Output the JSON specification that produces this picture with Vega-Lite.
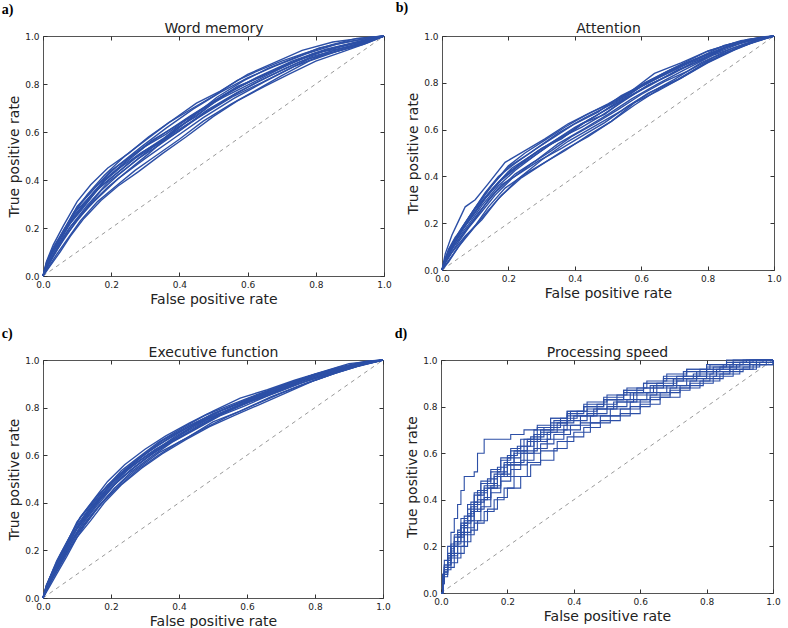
{
"$schema": "https://vega.github.io/schema/vega-lite/v6.json",
"padding": {"left": 1, "top": 0, "right": 0, "bottom": 0},
"background": "white",
"config": {
  "view": {"stroke": "#555", "strokeWidth": 1},
  "axis": {"domain": false, "grid": false, "tickColor": "#333", "tickSize": -4, "tickWidth": 1, "labelPadding": 8, "labelFont": "DejaVu Sans", "labelFontSize": 9, "labelColor": "#222", "titleFont": "DejaVu Sans", "titleFontSize": 14, "titleFontWeight": "normal", "titleColor": "#222", "labelFlush": false, "labelOverlap": false, "titlePadding": 3},
  "title": {"font": "Liberation Serif", "fontSize": 14, "fontWeight": "bold", "color": "#000", "anchor": "start", "frame": "bounds"}
},
"datasets": {
"diag": [{"x": 0, "y": 0}, {"x": 1, "y": 1}],
"a": [
{"c":1,"x":0,"y":0},{"c":1,"x":0.01,"y":0.06},{"c":1,"x":0.03,"y":0.13},{"c":1,"x":0.06,"y":0.21},{"c":1,"x":0.1,"y":0.31},{"c":1,"x":0.14,"y":0.38},{"c":1,"x":0.19,"y":0.45},{"c":1,"x":0.25,"y":0.51},{"c":1,"x":0.31,"y":0.58},{"c":1,"x":0.38,"y":0.65},{"c":1,"x":0.45,"y":0.72},{"c":1,"x":0.52,"y":0.77},{"c":1,"x":0.6,"y":0.84},{"c":1,"x":0.68,"y":0.89},{"c":1,"x":0.76,"y":0.94},{"c":1,"x":0.85,"y":0.975},{"c":1,"x":0.93,"y":0.99},{"c":1,"x":1,"y":1},
{"c":2,"x":0,"y":0},{"c":2,"x":0.02,"y":0.045},{"c":2,"x":0.04,"y":0.09},{"c":2,"x":0.07,"y":0.15},{"c":2,"x":0.11,"y":0.23},{"c":2,"x":0.16,"y":0.31},{"c":2,"x":0.21,"y":0.37},{"c":2,"x":0.27,"y":0.44},{"c":2,"x":0.33,"y":0.5},{"c":2,"x":0.4,"y":0.57},{"c":2,"x":0.47,"y":0.645},{"c":2,"x":0.55,"y":0.715},{"c":2,"x":0.62,"y":0.77},{"c":2,"x":0.7,"y":0.835},{"c":2,"x":0.78,"y":0.895},{"c":2,"x":0.86,"y":0.935},{"c":2,"x":0.94,"y":0.965},{"c":2,"x":1,"y":1},
{"c":3,"x":0,"y":0},{"c":3,"x":0.01,"y":0.05},{"c":3,"x":0.03,"y":0.11},{"c":3,"x":0.05,"y":0.16},{"c":3,"x":0.09,"y":0.26},{"c":3,"x":0.13,"y":0.32},{"c":3,"x":0.18,"y":0.4},{"c":3,"x":0.24,"y":0.47},{"c":3,"x":0.3,"y":0.54},{"c":3,"x":0.36,"y":0.59},{"c":3,"x":0.42,"y":0.65},{"c":3,"x":0.49,"y":0.715},{"c":3,"x":0.57,"y":0.79},{"c":3,"x":0.64,"y":0.83},{"c":3,"x":0.72,"y":0.885},{"c":3,"x":0.8,"y":0.93},{"c":3,"x":0.88,"y":0.96},{"c":3,"x":0.96,"y":0.99},{"c":3,"x":1,"y":1},
{"c":4,"x":0,"y":0},{"c":4,"x":0.01,"y":0.03},{"c":4,"x":0.02,"y":0.06},{"c":4,"x":0.05,"y":0.14},{"c":4,"x":0.08,"y":0.205},{"c":4,"x":0.12,"y":0.27},{"c":4,"x":0.17,"y":0.355},{"c":4,"x":0.22,"y":0.42},{"c":4,"x":0.28,"y":0.49},{"c":4,"x":0.34,"y":0.545},{"c":4,"x":0.41,"y":0.615},{"c":4,"x":0.48,"y":0.685},{"c":4,"x":0.56,"y":0.755},{"c":4,"x":0.63,"y":0.81},{"c":4,"x":0.71,"y":0.865},{"c":4,"x":0.79,"y":0.915},{"c":4,"x":0.87,"y":0.945},{"c":4,"x":0.95,"y":0.98},{"c":4,"x":1,"y":1},
{"c":5,"x":0,"y":0},{"c":5,"x":0.02,"y":0.085},{"c":5,"x":0.04,"y":0.135},{"c":5,"x":0.07,"y":0.21},{"c":5,"x":0.1,"y":0.29},{"c":5,"x":0.15,"y":0.365},{"c":5,"x":0.2,"y":0.44},{"c":5,"x":0.26,"y":0.5},{"c":5,"x":0.32,"y":0.565},{"c":5,"x":0.39,"y":0.625},{"c":5,"x":0.46,"y":0.69},{"c":5,"x":0.53,"y":0.745},{"c":5,"x":0.6,"y":0.795},{"c":5,"x":0.67,"y":0.845},{"c":5,"x":0.74,"y":0.895},{"c":5,"x":0.82,"y":0.935},{"c":5,"x":0.9,"y":0.955},{"c":5,"x":1,"y":1},
{"c":6,"x":0,"y":0},{"c":6,"x":0.01,"y":0.03},{"c":6,"x":0.03,"y":0.08},{"c":6,"x":0.06,"y":0.155},{"c":6,"x":0.1,"y":0.23},{"c":6,"x":0.14,"y":0.3},{"c":6,"x":0.19,"y":0.37},{"c":6,"x":0.25,"y":0.44},{"c":6,"x":0.31,"y":0.51},{"c":6,"x":0.37,"y":0.585},{"c":6,"x":0.44,"y":0.665},{"c":6,"x":0.51,"y":0.745},{"c":6,"x":0.59,"y":0.815},{"c":6,"x":0.66,"y":0.865},{"c":6,"x":0.73,"y":0.905},{"c":6,"x":0.81,"y":0.95},{"c":6,"x":0.89,"y":0.975},{"c":6,"x":0.97,"y":0.995},{"c":6,"x":1,"y":1},
{"c":7,"x":0,"y":0},{"c":7,"x":0.01,"y":0.045},{"c":7,"x":0.03,"y":0.1},{"c":7,"x":0.05,"y":0.145},{"c":7,"x":0.08,"y":0.22},{"c":7,"x":0.11,"y":0.27},{"c":7,"x":0.16,"y":0.36},{"c":7,"x":0.21,"y":0.42},{"c":7,"x":0.27,"y":0.49},{"c":7,"x":0.33,"y":0.545},{"c":7,"x":0.39,"y":0.615},{"c":7,"x":0.45,"y":0.665},{"c":7,"x":0.51,"y":0.735},{"c":7,"x":0.58,"y":0.79},{"c":7,"x":0.65,"y":0.84},{"c":7,"x":0.72,"y":0.88},{"c":7,"x":0.79,"y":0.925},{"c":7,"x":0.86,"y":0.95},{"c":7,"x":0.93,"y":0.975},{"c":7,"x":1,"y":1},
{"c":8,"x":0,"y":0},{"c":8,"x":0.02,"y":0.08},{"c":8,"x":0.05,"y":0.155},{"c":8,"x":0.09,"y":0.25},{"c":8,"x":0.13,"y":0.315},{"c":8,"x":0.18,"y":0.395},{"c":8,"x":0.23,"y":0.455},{"c":8,"x":0.29,"y":0.515},{"c":8,"x":0.35,"y":0.565},{"c":8,"x":0.42,"y":0.63},{"c":8,"x":0.49,"y":0.69},{"c":8,"x":0.56,"y":0.75},{"c":8,"x":0.64,"y":0.805},{"c":8,"x":0.71,"y":0.855},{"c":8,"x":0.78,"y":0.905},{"c":8,"x":0.86,"y":0.935},{"c":8,"x":0.94,"y":0.97},{"c":8,"x":1,"y":1},
{"c":9,"x":0,"y":0},{"c":9,"x":0.01,"y":0.055},{"c":9,"x":0.03,"y":0.12},{"c":9,"x":0.06,"y":0.19},{"c":9,"x":0.09,"y":0.265},{"c":9,"x":0.13,"y":0.34},{"c":9,"x":0.18,"y":0.42},{"c":9,"x":0.24,"y":0.5},{"c":9,"x":0.3,"y":0.565},{"c":9,"x":0.37,"y":0.64},{"c":9,"x":0.44,"y":0.7},{"c":9,"x":0.5,"y":0.75},{"c":9,"x":0.57,"y":0.815},{"c":9,"x":0.63,"y":0.855},{"c":9,"x":0.7,"y":0.895},{"c":9,"x":0.77,"y":0.93},{"c":9,"x":0.85,"y":0.965},{"c":9,"x":0.92,"y":0.99},{"c":9,"x":1,"y":1},
{"c":10,"x":0,"y":0},{"c":10,"x":0.02,"y":0.04},{"c":10,"x":0.05,"y":0.1},{"c":10,"x":0.08,"y":0.165},{"c":10,"x":0.12,"y":0.24},{"c":10,"x":0.17,"y":0.315},{"c":10,"x":0.22,"y":0.375},{"c":10,"x":0.28,"y":0.435},{"c":10,"x":0.35,"y":0.51},{"c":10,"x":0.42,"y":0.58},{"c":10,"x":0.5,"y":0.665},{"c":10,"x":0.57,"y":0.73},{"c":10,"x":0.65,"y":0.79},{"c":10,"x":0.72,"y":0.84},{"c":10,"x":0.8,"y":0.895},{"c":10,"x":0.88,"y":0.935},{"c":10,"x":0.95,"y":0.97},{"c":10,"x":1,"y":1},
{"c":11,"x":0,"y":0},{"c":11,"x":0.015,"y":0.07},{"c":11,"x":0.04,"y":0.135},{"c":11,"x":0.07,"y":0.2},{"c":11,"x":0.12,"y":0.3},{"c":11,"x":0.18,"y":0.4},{"c":11,"x":0.26,"y":0.5},{"c":11,"x":0.34,"y":0.58},{"c":11,"x":0.43,"y":0.665},{"c":11,"x":0.53,"y":0.755},{"c":11,"x":0.63,"y":0.83},{"c":11,"x":0.73,"y":0.895},{"c":11,"x":0.83,"y":0.945},{"c":11,"x":0.92,"y":0.975},{"c":11,"x":1,"y":1},
{"c":12,"x":0,"y":0},{"c":12,"x":0.01,"y":0.035},{"c":12,"x":0.03,"y":0.085},{"c":12,"x":0.06,"y":0.15},{"c":12,"x":0.1,"y":0.235},{"c":12,"x":0.15,"y":0.31},{"c":12,"x":0.22,"y":0.405},{"c":12,"x":0.3,"y":0.49},{"c":12,"x":0.38,"y":0.57},{"c":12,"x":0.47,"y":0.66},{"c":12,"x":0.56,"y":0.74},{"c":12,"x":0.65,"y":0.81},{"c":12,"x":0.74,"y":0.875},{"c":12,"x":0.83,"y":0.925},{"c":12,"x":0.91,"y":0.955},{"c":12,"x":1,"y":1},
{"c":13,"x":0,"y":0},{"c":13,"x":0.02,"y":0.075},{"c":13,"x":0.05,"y":0.16},{"c":13,"x":0.08,"y":0.225},{"c":13,"x":0.13,"y":0.31},{"c":13,"x":0.17,"y":0.375},{"c":13,"x":0.23,"y":0.445},{"c":13,"x":0.28,"y":0.505},{"c":13,"x":0.35,"y":0.57},{"c":13,"x":0.41,"y":0.63},{"c":13,"x":0.48,"y":0.7},{"c":13,"x":0.55,"y":0.77},{"c":13,"x":0.62,"y":0.82},{"c":13,"x":0.69,"y":0.865},{"c":13,"x":0.77,"y":0.91},{"c":13,"x":0.85,"y":0.95},{"c":13,"x":0.93,"y":0.975},{"c":13,"x":1,"y":1},
{"c":14,"x":0,"y":0},{"c":14,"x":0.01,"y":0.04},{"c":14,"x":0.04,"y":0.115},{"c":14,"x":0.08,"y":0.205},{"c":14,"x":0.13,"y":0.295},{"c":14,"x":0.19,"y":0.39},{"c":14,"x":0.25,"y":0.455},{"c":14,"x":0.32,"y":0.535},{"c":14,"x":0.4,"y":0.605},{"c":14,"x":0.48,"y":0.69},{"c":14,"x":0.57,"y":0.765},{"c":14,"x":0.66,"y":0.83},{"c":14,"x":0.75,"y":0.89},{"c":14,"x":0.84,"y":0.935},{"c":14,"x":0.93,"y":0.97},{"c":14,"x":1,"y":1},
{"c":15,"x":0,"y":0},{"c":15,"x":0.02,"y":0.075},{"c":15,"x":0.06,"y":0.19},{"c":15,"x":0.11,"y":0.3},{"c":15,"x":0.16,"y":0.38},{"c":15,"x":0.22,"y":0.46},{"c":15,"x":0.29,"y":0.54},{"c":15,"x":0.36,"y":0.615},{"c":15,"x":0.44,"y":0.695},{"c":15,"x":0.52,"y":0.765},{"c":15,"x":0.6,"y":0.825},{"c":15,"x":0.68,"y":0.875},{"c":15,"x":0.77,"y":0.925},{"c":15,"x":0.86,"y":0.965},{"c":15,"x":0.95,"y":0.99},{"c":15,"x":1,"y":1}
],
"b": [
{"c":1,"x":0,"y":0},{"c":1,"x":0.01,"y":0.07},{"c":1,"x":0.03,"y":0.15},{"c":1,"x":0.05,"y":0.21},{"c":1,"x":0.07,"y":0.27},{"c":1,"x":0.1,"y":0.3},{"c":1,"x":0.14,"y":0.37},{"c":1,"x":0.19,"y":0.46},{"c":1,"x":0.25,"y":0.51},{"c":1,"x":0.31,"y":0.56},{"c":1,"x":0.38,"y":0.625},{"c":1,"x":0.45,"y":0.675},{"c":1,"x":0.52,"y":0.72},{"c":1,"x":0.6,"y":0.79},{"c":1,"x":0.68,"y":0.85},{"c":1,"x":0.76,"y":0.9},{"c":1,"x":0.84,"y":0.945},{"c":1,"x":0.92,"y":0.98},{"c":1,"x":1,"y":1},
{"c":2,"x":0,"y":0},{"c":2,"x":0.02,"y":0.04},{"c":2,"x":0.04,"y":0.08},{"c":2,"x":0.07,"y":0.14},{"c":2,"x":0.1,"y":0.19},{"c":2,"x":0.14,"y":0.27},{"c":2,"x":0.19,"y":0.35},{"c":2,"x":0.25,"y":0.41},{"c":2,"x":0.31,"y":0.46},{"c":2,"x":0.37,"y":0.51},{"c":2,"x":0.44,"y":0.575},{"c":2,"x":0.51,"y":0.635},{"c":2,"x":0.58,"y":0.705},{"c":2,"x":0.65,"y":0.77},{"c":2,"x":0.72,"y":0.82},{"c":2,"x":0.8,"y":0.885},{"c":2,"x":0.88,"y":0.94},{"c":2,"x":0.95,"y":0.98},{"c":2,"x":1,"y":1},
{"c":3,"x":0,"y":0},{"c":3,"x":0.01,"y":0.05},{"c":3,"x":0.03,"y":0.11},{"c":3,"x":0.06,"y":0.18},{"c":3,"x":0.09,"y":0.245},{"c":3,"x":0.13,"y":0.33},{"c":3,"x":0.17,"y":0.4},{"c":3,"x":0.22,"y":0.455},{"c":3,"x":0.28,"y":0.515},{"c":3,"x":0.34,"y":0.57},{"c":3,"x":0.4,"y":0.625},{"c":3,"x":0.47,"y":0.675},{"c":3,"x":0.54,"y":0.745},{"c":3,"x":0.61,"y":0.795},{"c":3,"x":0.69,"y":0.855},{"c":3,"x":0.77,"y":0.905},{"c":3,"x":0.85,"y":0.96},{"c":3,"x":0.93,"y":0.985},{"c":3,"x":1,"y":1},
{"c":4,"x":0,"y":0},{"c":4,"x":0.01,"y":0.03},{"c":4,"x":0.02,"y":0.055},{"c":4,"x":0.05,"y":0.12},{"c":4,"x":0.08,"y":0.18},{"c":4,"x":0.12,"y":0.25},{"c":4,"x":0.16,"y":0.32},{"c":4,"x":0.21,"y":0.39},{"c":4,"x":0.27,"y":0.455},{"c":4,"x":0.33,"y":0.51},{"c":4,"x":0.39,"y":0.57},{"c":4,"x":0.46,"y":0.625},{"c":4,"x":0.53,"y":0.685},{"c":4,"x":0.6,"y":0.75},{"c":4,"x":0.67,"y":0.805},{"c":4,"x":0.74,"y":0.85},{"c":4,"x":0.82,"y":0.91},{"c":4,"x":0.9,"y":0.955},{"c":4,"x":0.97,"y":0.99},{"c":4,"x":1,"y":1},
{"c":5,"x":0,"y":0},{"c":5,"x":0.02,"y":0.08},{"c":5,"x":0.04,"y":0.125},{"c":5,"x":0.07,"y":0.19},{"c":5,"x":0.11,"y":0.27},{"c":5,"x":0.15,"y":0.34},{"c":5,"x":0.2,"y":0.42},{"c":5,"x":0.26,"y":0.47},{"c":5,"x":0.32,"y":0.53},{"c":5,"x":0.38,"y":0.58},{"c":5,"x":0.44,"y":0.64},{"c":5,"x":0.5,"y":0.69},{"c":5,"x":0.57,"y":0.745},{"c":5,"x":0.64,"y":0.8},{"c":5,"x":0.71,"y":0.855},{"c":5,"x":0.78,"y":0.895},{"c":5,"x":0.86,"y":0.955},{"c":5,"x":0.94,"y":0.985},{"c":5,"x":1,"y":1},
{"c":6,"x":0,"y":0},{"c":6,"x":0.01,"y":0.035},{"c":6,"x":0.03,"y":0.09},{"c":6,"x":0.06,"y":0.15},{"c":6,"x":0.1,"y":0.22},{"c":6,"x":0.14,"y":0.3},{"c":6,"x":0.18,"y":0.365},{"c":6,"x":0.23,"y":0.41},{"c":6,"x":0.29,"y":0.465},{"c":6,"x":0.36,"y":0.52},{"c":6,"x":0.43,"y":0.58},{"c":6,"x":0.49,"y":0.63},{"c":6,"x":0.56,"y":0.7},{"c":6,"x":0.63,"y":0.76},{"c":6,"x":0.7,"y":0.815},{"c":6,"x":0.78,"y":0.885},{"c":6,"x":0.87,"y":0.945},{"c":6,"x":0.95,"y":0.985},{"c":6,"x":1,"y":1},
{"c":7,"x":0,"y":0},{"c":7,"x":0.01,"y":0.045},{"c":7,"x":0.04,"y":0.13},{"c":7,"x":0.07,"y":0.2},{"c":7,"x":0.1,"y":0.265},{"c":7,"x":0.15,"y":0.36},{"c":7,"x":0.2,"y":0.445},{"c":7,"x":0.25,"y":0.5},{"c":7,"x":0.31,"y":0.555},{"c":7,"x":0.37,"y":0.61},{"c":7,"x":0.43,"y":0.66},{"c":7,"x":0.5,"y":0.71},{"c":7,"x":0.57,"y":0.765},{"c":7,"x":0.64,"y":0.84},{"c":7,"x":0.72,"y":0.885},{"c":7,"x":0.8,"y":0.935},{"c":7,"x":0.88,"y":0.97},{"c":7,"x":0.96,"y":0.995},{"c":7,"x":1,"y":1},
{"c":8,"x":0,"y":0},{"c":8,"x":0.01,"y":0.04},{"c":8,"x":0.03,"y":0.1},{"c":8,"x":0.05,"y":0.14},{"c":8,"x":0.08,"y":0.195},{"c":8,"x":0.12,"y":0.275},{"c":8,"x":0.17,"y":0.36},{"c":8,"x":0.22,"y":0.425},{"c":8,"x":0.28,"y":0.49},{"c":8,"x":0.35,"y":0.56},{"c":8,"x":0.42,"y":0.61},{"c":8,"x":0.48,"y":0.66},{"c":8,"x":0.55,"y":0.725},{"c":8,"x":0.62,"y":0.79},{"c":8,"x":0.69,"y":0.835},{"c":8,"x":0.76,"y":0.89},{"c":8,"x":0.84,"y":0.935},{"c":8,"x":0.91,"y":0.975},{"c":8,"x":1,"y":1},
{"c":9,"x":0,"y":0},{"c":9,"x":0.02,"y":0.035},{"c":9,"x":0.05,"y":0.1},{"c":9,"x":0.09,"y":0.17},{"c":9,"x":0.13,"y":0.24},{"c":9,"x":0.18,"y":0.32},{"c":9,"x":0.24,"y":0.395},{"c":9,"x":0.3,"y":0.45},{"c":9,"x":0.37,"y":0.515},{"c":9,"x":0.44,"y":0.57},{"c":9,"x":0.51,"y":0.635},{"c":9,"x":0.58,"y":0.715},{"c":9,"x":0.65,"y":0.765},{"c":9,"x":0.72,"y":0.82},{"c":9,"x":0.79,"y":0.88},{"c":9,"x":0.86,"y":0.93},{"c":9,"x":0.93,"y":0.97},{"c":9,"x":1,"y":1},
{"c":10,"x":0,"y":0},{"c":10,"x":0.01,"y":0.05},{"c":10,"x":0.02,"y":0.09},{"c":10,"x":0.04,"y":0.14},{"c":10,"x":0.07,"y":0.19},{"c":10,"x":0.1,"y":0.26},{"c":10,"x":0.15,"y":0.345},{"c":10,"x":0.21,"y":0.435},{"c":10,"x":0.27,"y":0.49},{"c":10,"x":0.33,"y":0.545},{"c":10,"x":0.4,"y":0.61},{"c":10,"x":0.46,"y":0.655},{"c":10,"x":0.53,"y":0.72},{"c":10,"x":0.59,"y":0.775},{"c":10,"x":0.66,"y":0.83},{"c":10,"x":0.74,"y":0.885},{"c":10,"x":0.81,"y":0.925},{"c":10,"x":0.89,"y":0.97},{"c":10,"x":0.97,"y":0.995},{"c":10,"x":1,"y":1},
{"c":11,"x":0,"y":0},{"c":11,"x":0.02,"y":0.085},{"c":11,"x":0.05,"y":0.16},{"c":11,"x":0.09,"y":0.245},{"c":11,"x":0.14,"y":0.345},{"c":11,"x":0.2,"y":0.44},{"c":11,"x":0.27,"y":0.505},{"c":11,"x":0.35,"y":0.585},{"c":11,"x":0.43,"y":0.65},{"c":11,"x":0.52,"y":0.715},{"c":11,"x":0.61,"y":0.8},{"c":11,"x":0.7,"y":0.865},{"c":11,"x":0.8,"y":0.935},{"c":11,"x":0.9,"y":0.98},{"c":11,"x":1,"y":1},
{"c":12,"x":0,"y":0},{"c":12,"x":0.01,"y":0.03},{"c":12,"x":0.03,"y":0.075},{"c":12,"x":0.07,"y":0.145},{"c":12,"x":0.12,"y":0.215},{"c":12,"x":0.17,"y":0.305},{"c":12,"x":0.23,"y":0.39},{"c":12,"x":0.3,"y":0.47},{"c":12,"x":0.38,"y":0.55},{"c":12,"x":0.46,"y":0.615},{"c":12,"x":0.54,"y":0.68},{"c":12,"x":0.62,"y":0.755},{"c":12,"x":0.71,"y":0.815},{"c":12,"x":0.8,"y":0.89},{"c":12,"x":0.9,"y":0.955},{"c":12,"x":1,"y":1},
{"c":13,"x":0,"y":0},{"c":13,"x":0.01,"y":0.045},{"c":13,"x":0.03,"y":0.095},{"c":13,"x":0.06,"y":0.17},{"c":13,"x":0.09,"y":0.225},{"c":13,"x":0.13,"y":0.305},{"c":13,"x":0.18,"y":0.385},{"c":13,"x":0.24,"y":0.455},{"c":13,"x":0.3,"y":0.52},{"c":13,"x":0.36,"y":0.56},{"c":13,"x":0.42,"y":0.625},{"c":13,"x":0.49,"y":0.665},{"c":13,"x":0.56,"y":0.74},{"c":13,"x":0.63,"y":0.795},{"c":13,"x":0.7,"y":0.845},{"c":13,"x":0.77,"y":0.89},{"c":13,"x":0.85,"y":0.95},{"c":13,"x":0.93,"y":0.98},{"c":13,"x":1,"y":1},
{"c":14,"x":0,"y":0},{"c":14,"x":0.02,"y":0.075},{"c":14,"x":0.05,"y":0.15},{"c":14,"x":0.08,"y":0.21},{"c":14,"x":0.12,"y":0.29},{"c":14,"x":0.17,"y":0.375},{"c":14,"x":0.23,"y":0.45},{"c":14,"x":0.29,"y":0.51},{"c":14,"x":0.36,"y":0.57},{"c":14,"x":0.44,"y":0.64},{"c":14,"x":0.52,"y":0.705},{"c":14,"x":0.6,"y":0.785},{"c":14,"x":0.68,"y":0.84},{"c":14,"x":0.76,"y":0.895},{"c":14,"x":0.84,"y":0.945},{"c":14,"x":0.92,"y":0.985},{"c":14,"x":1,"y":1},
{"c":15,"x":0,"y":0},{"c":15,"x":0.01,"y":0.04},{"c":15,"x":0.04,"y":0.11},{"c":15,"x":0.07,"y":0.165},{"c":15,"x":0.11,"y":0.245},{"c":15,"x":0.16,"y":0.33},{"c":15,"x":0.22,"y":0.41},{"c":15,"x":0.28,"y":0.465},{"c":15,"x":0.35,"y":0.54},{"c":15,"x":0.43,"y":0.605},{"c":15,"x":0.5,"y":0.665},{"c":15,"x":0.57,"y":0.73},{"c":15,"x":0.65,"y":0.795},{"c":15,"x":0.73,"y":0.855},{"c":15,"x":0.82,"y":0.92},{"c":15,"x":0.91,"y":0.965},{"c":15,"x":1,"y":1}
],
"c": [
{"c":1,"x":0,"y":0},{"c":1,"x":0.01,"y":0.05},{"c":1,"x":0.03,"y":0.12},{"c":1,"x":0.05,"y":0.18},{"c":1,"x":0.08,"y":0.26},{"c":1,"x":0.11,"y":0.34},{"c":1,"x":0.15,"y":0.415},{"c":1,"x":0.19,"y":0.49},{"c":1,"x":0.24,"y":0.56},{"c":1,"x":0.3,"y":0.625},{"c":1,"x":0.36,"y":0.68},{"c":1,"x":0.43,"y":0.735},{"c":1,"x":0.5,"y":0.785},{"c":1,"x":0.58,"y":0.84},{"c":1,"x":0.66,"y":0.875},{"c":1,"x":0.74,"y":0.915},{"c":1,"x":0.82,"y":0.95},{"c":1,"x":0.9,"y":0.985},{"c":1,"x":1,"y":1},
{"c":2,"x":0,"y":0},{"c":2,"x":0.02,"y":0.05},{"c":2,"x":0.04,"y":0.1},{"c":2,"x":0.07,"y":0.175},{"c":2,"x":0.1,"y":0.255},{"c":2,"x":0.14,"y":0.325},{"c":2,"x":0.18,"y":0.4},{"c":2,"x":0.23,"y":0.475},{"c":2,"x":0.29,"y":0.545},{"c":2,"x":0.35,"y":0.605},{"c":2,"x":0.42,"y":0.665},{"c":2,"x":0.49,"y":0.72},{"c":2,"x":0.56,"y":0.765},{"c":2,"x":0.64,"y":0.815},{"c":2,"x":0.72,"y":0.865},{"c":2,"x":0.8,"y":0.915},{"c":2,"x":0.88,"y":0.955},{"c":2,"x":0.95,"y":0.985},{"c":2,"x":1,"y":1},
{"c":3,"x":0,"y":0},{"c":3,"x":0.01,"y":0.045},{"c":3,"x":0.02,"y":0.085},{"c":3,"x":0.04,"y":0.14},{"c":3,"x":0.06,"y":0.19},{"c":3,"x":0.09,"y":0.275},{"c":3,"x":0.13,"y":0.36},{"c":3,"x":0.17,"y":0.43},{"c":3,"x":0.22,"y":0.51},{"c":3,"x":0.27,"y":0.57},{"c":3,"x":0.33,"y":0.635},{"c":3,"x":0.39,"y":0.69},{"c":3,"x":0.46,"y":0.74},{"c":3,"x":0.53,"y":0.79},{"c":3,"x":0.61,"y":0.835},{"c":3,"x":0.69,"y":0.875},{"c":3,"x":0.77,"y":0.92},{"c":3,"x":0.85,"y":0.955},{"c":3,"x":0.93,"y":0.985},{"c":3,"x":1,"y":1},
{"c":4,"x":0,"y":0},{"c":4,"x":0.01,"y":0.035},{"c":4,"x":0.03,"y":0.09},{"c":4,"x":0.06,"y":0.17},{"c":4,"x":0.09,"y":0.25},{"c":4,"x":0.12,"y":0.31},{"c":4,"x":0.16,"y":0.38},{"c":4,"x":0.21,"y":0.46},{"c":4,"x":0.26,"y":0.53},{"c":4,"x":0.32,"y":0.595},{"c":4,"x":0.38,"y":0.655},{"c":4,"x":0.45,"y":0.71},{"c":4,"x":0.52,"y":0.765},{"c":4,"x":0.59,"y":0.805},{"c":4,"x":0.67,"y":0.855},{"c":4,"x":0.75,"y":0.9},{"c":4,"x":0.83,"y":0.935},{"c":4,"x":0.91,"y":0.97},{"c":4,"x":1,"y":1},
{"c":5,"x":0,"y":0},{"c":5,"x":0.02,"y":0.075},{"c":5,"x":0.05,"y":0.16},{"c":5,"x":0.08,"y":0.245},{"c":5,"x":0.11,"y":0.315},{"c":5,"x":0.15,"y":0.39},{"c":5,"x":0.2,"y":0.47},{"c":5,"x":0.25,"y":0.54},{"c":5,"x":0.31,"y":0.605},{"c":5,"x":0.37,"y":0.655},{"c":5,"x":0.44,"y":0.72},{"c":5,"x":0.51,"y":0.77},{"c":5,"x":0.58,"y":0.81},{"c":5,"x":0.65,"y":0.855},{"c":5,"x":0.73,"y":0.895},{"c":5,"x":0.81,"y":0.94},{"c":5,"x":0.89,"y":0.97},{"c":5,"x":0.96,"y":0.99},{"c":5,"x":1,"y":1},
{"c":6,"x":0,"y":0},{"c":6,"x":0.01,"y":0.03},{"c":6,"x":0.02,"y":0.06},{"c":6,"x":0.05,"y":0.135},{"c":6,"x":0.08,"y":0.21},{"c":6,"x":0.12,"y":0.3},{"c":6,"x":0.17,"y":0.395},{"c":6,"x":0.22,"y":0.465},{"c":6,"x":0.28,"y":0.54},{"c":6,"x":0.34,"y":0.6},{"c":6,"x":0.4,"y":0.655},{"c":6,"x":0.47,"y":0.71},{"c":6,"x":0.54,"y":0.76},{"c":6,"x":0.62,"y":0.81},{"c":6,"x":0.7,"y":0.86},{"c":6,"x":0.78,"y":0.905},{"c":6,"x":0.86,"y":0.945},{"c":6,"x":0.94,"y":0.98},{"c":6,"x":1,"y":1},
{"c":7,"x":0,"y":0},{"c":7,"x":0.01,"y":0.055},{"c":7,"x":0.03,"y":0.115},{"c":7,"x":0.06,"y":0.2},{"c":7,"x":0.1,"y":0.32},{"c":7,"x":0.14,"y":0.39},{"c":7,"x":0.18,"y":0.455},{"c":7,"x":0.23,"y":0.535},{"c":7,"x":0.28,"y":0.59},{"c":7,"x":0.34,"y":0.655},{"c":7,"x":0.41,"y":0.715},{"c":7,"x":0.48,"y":0.77},{"c":7,"x":0.55,"y":0.81},{"c":7,"x":0.63,"y":0.855},{"c":7,"x":0.71,"y":0.895},{"c":7,"x":0.79,"y":0.935},{"c":7,"x":0.87,"y":0.97},{"c":7,"x":0.95,"y":0.995},{"c":7,"x":1,"y":1},
{"c":8,"x":0,"y":0},{"c":8,"x":0.01,"y":0.04},{"c":8,"x":0.04,"y":0.13},{"c":8,"x":0.07,"y":0.21},{"c":8,"x":0.1,"y":0.29},{"c":8,"x":0.13,"y":0.345},{"c":8,"x":0.17,"y":0.415},{"c":8,"x":0.22,"y":0.49},{"c":8,"x":0.27,"y":0.55},{"c":8,"x":0.33,"y":0.615},{"c":8,"x":0.39,"y":0.665},{"c":8,"x":0.46,"y":0.725},{"c":8,"x":0.53,"y":0.78},{"c":8,"x":0.6,"y":0.82},{"c":8,"x":0.68,"y":0.865},{"c":8,"x":0.76,"y":0.91},{"c":8,"x":0.84,"y":0.945},{"c":8,"x":0.92,"y":0.98},{"c":8,"x":1,"y":1},
{"c":9,"x":0,"y":0},{"c":9,"x":0.02,"y":0.065},{"c":9,"x":0.04,"y":0.12},{"c":9,"x":0.07,"y":0.2},{"c":9,"x":0.11,"y":0.3},{"c":9,"x":0.16,"y":0.39},{"c":9,"x":0.21,"y":0.475},{"c":9,"x":0.26,"y":0.54},{"c":9,"x":0.32,"y":0.605},{"c":9,"x":0.38,"y":0.66},{"c":9,"x":0.44,"y":0.705},{"c":9,"x":0.51,"y":0.765},{"c":9,"x":0.59,"y":0.815},{"c":9,"x":0.67,"y":0.86},{"c":9,"x":0.75,"y":0.9},{"c":9,"x":0.83,"y":0.94},{"c":9,"x":0.91,"y":0.97},{"c":9,"x":1,"y":1},
{"c":10,"x":0,"y":0},{"c":10,"x":0.01,"y":0.05},{"c":10,"x":0.03,"y":0.115},{"c":10,"x":0.05,"y":0.17},{"c":10,"x":0.09,"y":0.285},{"c":10,"x":0.13,"y":0.365},{"c":10,"x":0.19,"y":0.475},{"c":10,"x":0.25,"y":0.55},{"c":10,"x":0.3,"y":0.605},{"c":10,"x":0.36,"y":0.66},{"c":10,"x":0.43,"y":0.72},{"c":10,"x":0.5,"y":0.775},{"c":10,"x":0.57,"y":0.815},{"c":10,"x":0.64,"y":0.855},{"c":10,"x":0.72,"y":0.9},{"c":10,"x":0.8,"y":0.94},{"c":10,"x":0.88,"y":0.97},{"c":10,"x":0.96,"y":0.995},{"c":10,"x":1,"y":1},
{"c":11,"x":0,"y":0},{"c":11,"x":0.02,"y":0.075},{"c":11,"x":0.05,"y":0.165},{"c":11,"x":0.09,"y":0.275},{"c":11,"x":0.14,"y":0.37},{"c":11,"x":0.2,"y":0.48},{"c":11,"x":0.26,"y":0.55},{"c":11,"x":0.33,"y":0.625},{"c":11,"x":0.41,"y":0.69},{"c":11,"x":0.49,"y":0.755},{"c":11,"x":0.57,"y":0.805},{"c":11,"x":0.66,"y":0.86},{"c":11,"x":0.75,"y":0.91},{"c":11,"x":0.84,"y":0.95},{"c":11,"x":0.92,"y":0.98},{"c":11,"x":1,"y":1},
{"c":12,"x":0,"y":0},{"c":12,"x":0.01,"y":0.035},{"c":12,"x":0.03,"y":0.09},{"c":12,"x":0.06,"y":0.165},{"c":12,"x":0.1,"y":0.265},{"c":12,"x":0.15,"y":0.36},{"c":12,"x":0.21,"y":0.46},{"c":12,"x":0.27,"y":0.535},{"c":12,"x":0.34,"y":0.61},{"c":12,"x":0.42,"y":0.67},{"c":12,"x":0.5,"y":0.74},{"c":12,"x":0.58,"y":0.785},{"c":12,"x":0.67,"y":0.845},{"c":12,"x":0.76,"y":0.895},{"c":12,"x":0.85,"y":0.94},{"c":12,"x":0.93,"y":0.975},{"c":12,"x":1,"y":1},
{"c":13,"x":0,"y":0},{"c":13,"x":0.01,"y":0.05},{"c":13,"x":0.04,"y":0.155},{"c":13,"x":0.07,"y":0.235},{"c":13,"x":0.11,"y":0.34},{"c":13,"x":0.16,"y":0.43},{"c":13,"x":0.22,"y":0.515},{"c":13,"x":0.28,"y":0.585},{"c":13,"x":0.35,"y":0.66},{"c":13,"x":0.43,"y":0.725},{"c":13,"x":0.51,"y":0.78},{"c":13,"x":0.6,"y":0.835},{"c":13,"x":0.69,"y":0.885},{"c":13,"x":0.78,"y":0.93},{"c":13,"x":0.87,"y":0.965},{"c":13,"x":0.95,"y":0.99},{"c":13,"x":1,"y":1},
{"c":14,"x":0,"y":0},{"c":14,"x":0.02,"y":0.065},{"c":14,"x":0.04,"y":0.125},{"c":14,"x":0.08,"y":0.235},{"c":14,"x":0.12,"y":0.32},{"c":14,"x":0.17,"y":0.42},{"c":14,"x":0.23,"y":0.505},{"c":14,"x":0.3,"y":0.585},{"c":14,"x":0.37,"y":0.65},{"c":14,"x":0.45,"y":0.715},{"c":14,"x":0.53,"y":0.775},{"c":14,"x":0.61,"y":0.825},{"c":14,"x":0.7,"y":0.87},{"c":14,"x":0.79,"y":0.92},{"c":14,"x":0.88,"y":0.96},{"c":14,"x":0.96,"y":0.99},{"c":14,"x":1,"y":1},
{"c":15,"x":0,"y":0},{"c":15,"x":0.01,"y":0.045},{"c":15,"x":0.03,"y":0.105},{"c":15,"x":0.05,"y":0.165},{"c":15,"x":0.08,"y":0.25},{"c":15,"x":0.12,"y":0.34},{"c":15,"x":0.16,"y":0.41},{"c":15,"x":0.21,"y":0.495},{"c":15,"x":0.27,"y":0.565},{"c":15,"x":0.32,"y":0.61},{"c":15,"x":0.39,"y":0.68},{"c":15,"x":0.47,"y":0.745},{"c":15,"x":0.55,"y":0.795},{"c":15,"x":0.63,"y":0.845},{"c":15,"x":0.71,"y":0.89},{"c":15,"x":0.8,"y":0.935},{"c":15,"x":0.89,"y":0.97},{"c":15,"x":1,"y":1}
],
"d": [
{"c":1,"x":0,"y":0},{"c":1,"x":0.005,"y":0.06},{"c":1,"x":0.01,"y":0.1},{"c":1,"x":0.02,"y":0.14},{"c":1,"x":0.03,"y":0.18},{"c":1,"x":0.04,"y":0.22},{"c":1,"x":0.05,"y":0.25},{"c":1,"x":0.07,"y":0.31},{"c":1,"x":0.09,"y":0.37},{"c":1,"x":0.11,"y":0.42},{"c":1,"x":0.13,"y":0.46},{"c":1,"x":0.16,"y":0.51},{"c":1,"x":0.19,"y":0.55},{"c":1,"x":0.22,"y":0.6},{"c":1,"x":0.26,"y":0.65},{"c":1,"x":0.3,"y":0.69},{"c":1,"x":0.35,"y":0.73},{"c":1,"x":0.4,"y":0.76},{"c":1,"x":0.46,"y":0.79},{"c":1,"x":0.52,"y":0.82},{"c":1,"x":0.58,"y":0.86},{"c":1,"x":0.64,"y":0.89},{"c":1,"x":0.7,"y":0.92},{"c":1,"x":0.77,"y":0.95},{"c":1,"x":0.84,"y":0.97},{"c":1,"x":0.9,"y":0.99},{"c":1,"x":0.97,"y":1},{"c":1,"x":1,"y":1},
{"c":2,"x":0,"y":0},{"c":2,"x":0.005,"y":0.08},{"c":2,"x":0.01,"y":0.14},{"c":2,"x":0.02,"y":0.2},{"c":2,"x":0.03,"y":0.26},{"c":2,"x":0.04,"y":0.32},{"c":2,"x":0.05,"y":0.38},{"c":2,"x":0.06,"y":0.44},{"c":2,"x":0.07,"y":0.5},{"c":2,"x":0.1,"y":0.52},{"c":2,"x":0.11,"y":0.6},{"c":2,"x":0.13,"y":0.66},{"c":2,"x":0.21,"y":0.68},{"c":2,"x":0.25,"y":0.7},{"c":2,"x":0.29,"y":0.72},{"c":2,"x":0.33,"y":0.75},{"c":2,"x":0.38,"y":0.78},{"c":2,"x":0.43,"y":0.8},{"c":2,"x":0.49,"y":0.83},{"c":2,"x":0.55,"y":0.86},{"c":2,"x":0.61,"y":0.88},{"c":2,"x":0.67,"y":0.91},{"c":2,"x":0.73,"y":0.93},{"c":2,"x":0.8,"y":0.96},{"c":2,"x":0.87,"y":0.98},{"c":2,"x":0.93,"y":1},{"c":2,"x":1,"y":1},
{"c":3,"x":0,"y":0},{"c":3,"x":0.005,"y":0.04},{"c":3,"x":0.01,"y":0.07},{"c":3,"x":0.02,"y":0.1},{"c":3,"x":0.03,"y":0.13},{"c":3,"x":0.05,"y":0.17},{"c":3,"x":0.07,"y":0.22},{"c":3,"x":0.09,"y":0.27},{"c":3,"x":0.11,"y":0.31},{"c":3,"x":0.14,"y":0.36},{"c":3,"x":0.17,"y":0.41},{"c":3,"x":0.2,"y":0.45},{"c":3,"x":0.24,"y":0.5},{"c":3,"x":0.27,"y":0.55},{"c":3,"x":0.3,"y":0.57},{"c":3,"x":0.34,"y":0.62},{"c":3,"x":0.38,"y":0.67},{"c":3,"x":0.43,"y":0.71},{"c":3,"x":0.48,"y":0.74},{"c":3,"x":0.54,"y":0.77},{"c":3,"x":0.6,"y":0.81},{"c":3,"x":0.66,"y":0.84},{"c":3,"x":0.72,"y":0.88},{"c":3,"x":0.78,"y":0.91},{"c":3,"x":0.84,"y":0.94},{"c":3,"x":0.9,"y":0.96},{"c":3,"x":0.95,"y":0.98},{"c":3,"x":1,"y":1},
{"c":4,"x":0,"y":0},{"c":4,"x":0.005,"y":0.08},{"c":4,"x":0.01,"y":0.12},{"c":4,"x":0.02,"y":0.17},{"c":4,"x":0.03,"y":0.21},{"c":4,"x":0.04,"y":0.25},{"c":4,"x":0.06,"y":0.3},{"c":4,"x":0.08,"y":0.36},{"c":4,"x":0.1,"y":0.42},{"c":4,"x":0.12,"y":0.47},{"c":4,"x":0.15,"y":0.52},{"c":4,"x":0.18,"y":0.57},{"c":4,"x":0.21,"y":0.61},{"c":4,"x":0.25,"y":0.66},{"c":4,"x":0.29,"y":0.71},{"c":4,"x":0.33,"y":0.75},{"c":4,"x":0.38,"y":0.78},{"c":4,"x":0.43,"y":0.81},{"c":4,"x":0.49,"y":0.84},{"c":4,"x":0.55,"y":0.87},{"c":4,"x":0.61,"y":0.9},{"c":4,"x":0.67,"y":0.92},{"c":4,"x":0.73,"y":0.95},{"c":4,"x":0.8,"y":0.97},{"c":4,"x":0.86,"y":0.99},{"c":4,"x":0.92,"y":1},{"c":4,"x":1,"y":1},
{"c":5,"x":0,"y":0},{"c":5,"x":0.005,"y":0.05},{"c":5,"x":0.01,"y":0.09},{"c":5,"x":0.02,"y":0.12},{"c":5,"x":0.03,"y":0.16},{"c":5,"x":0.05,"y":0.2},{"c":5,"x":0.07,"y":0.26},{"c":5,"x":0.09,"y":0.31},{"c":5,"x":0.12,"y":0.37},{"c":5,"x":0.15,"y":0.43},{"c":5,"x":0.18,"y":0.48},{"c":5,"x":0.21,"y":0.53},{"c":5,"x":0.24,"y":0.57},{"c":5,"x":0.28,"y":0.62},{"c":5,"x":0.32,"y":0.66},{"c":5,"x":0.37,"y":0.7},{"c":5,"x":0.42,"y":0.73},{"c":5,"x":0.48,"y":0.76},{"c":5,"x":0.54,"y":0.79},{"c":5,"x":0.6,"y":0.83},{"c":5,"x":0.66,"y":0.86},{"c":5,"x":0.72,"y":0.89},{"c":5,"x":0.79,"y":0.92},{"c":5,"x":0.85,"y":0.95},{"c":5,"x":0.91,"y":0.97},{"c":5,"x":0.96,"y":0.99},{"c":5,"x":1,"y":1},
{"c":6,"x":0,"y":0},{"c":6,"x":0.005,"y":0.07},{"c":6,"x":0.01,"y":0.11},{"c":6,"x":0.02,"y":0.16},{"c":6,"x":0.04,"y":0.22},{"c":6,"x":0.06,"y":0.28},{"c":6,"x":0.08,"y":0.33},{"c":6,"x":0.1,"y":0.39},{"c":6,"x":0.13,"y":0.45},{"c":6,"x":0.16,"y":0.5},{"c":6,"x":0.19,"y":0.56},{"c":6,"x":0.22,"y":0.61},{"c":6,"x":0.26,"y":0.66},{"c":6,"x":0.3,"y":0.7},{"c":6,"x":0.34,"y":0.74},{"c":6,"x":0.39,"y":0.78},{"c":6,"x":0.44,"y":0.82},{"c":6,"x":0.5,"y":0.85},{"c":6,"x":0.56,"y":0.88},{"c":6,"x":0.62,"y":0.91},{"c":6,"x":0.68,"y":0.94},{"c":6,"x":0.74,"y":0.96},{"c":6,"x":0.8,"y":0.98},{"c":6,"x":0.86,"y":1},{"c":6,"x":1,"y":1},
{"c":7,"x":0,"y":0},{"c":7,"x":0.005,"y":0.06},{"c":7,"x":0.01,"y":0.09},{"c":7,"x":0.02,"y":0.13},{"c":7,"x":0.03,"y":0.17},{"c":7,"x":0.05,"y":0.22},{"c":7,"x":0.07,"y":0.28},{"c":7,"x":0.1,"y":0.35},{"c":7,"x":0.12,"y":0.4},{"c":7,"x":0.15,"y":0.46},{"c":7,"x":0.18,"y":0.51},{"c":7,"x":0.21,"y":0.56},{"c":7,"x":0.25,"y":0.61},{"c":7,"x":0.29,"y":0.66},{"c":7,"x":0.33,"y":0.7},{"c":7,"x":0.38,"y":0.74},{"c":7,"x":0.44,"y":0.77},{"c":7,"x":0.5,"y":0.8},{"c":7,"x":0.56,"y":0.83},{"c":7,"x":0.62,"y":0.86},{"c":7,"x":0.68,"y":0.89},{"c":7,"x":0.74,"y":0.92},{"c":7,"x":0.8,"y":0.95},{"c":7,"x":0.87,"y":0.97},{"c":7,"x":0.93,"y":0.99},{"c":7,"x":1,"y":1},
{"c":8,"x":0,"y":0},{"c":8,"x":0.005,"y":0.07},{"c":8,"x":0.01,"y":0.12},{"c":8,"x":0.02,"y":0.16},{"c":8,"x":0.03,"y":0.2},{"c":8,"x":0.05,"y":0.26},{"c":8,"x":0.07,"y":0.33},{"c":8,"x":0.09,"y":0.39},{"c":8,"x":0.11,"y":0.44},{"c":8,"x":0.14,"y":0.49},{"c":8,"x":0.17,"y":0.54},{"c":8,"x":0.2,"y":0.59},{"c":8,"x":0.23,"y":0.63},{"c":8,"x":0.27,"y":0.67},{"c":8,"x":0.31,"y":0.71},{"c":8,"x":0.36,"y":0.75},{"c":8,"x":0.41,"y":0.78},{"c":8,"x":0.47,"y":0.81},{"c":8,"x":0.53,"y":0.85},{"c":8,"x":0.59,"y":0.88},{"c":8,"x":0.65,"y":0.9},{"c":8,"x":0.71,"y":0.93},{"c":8,"x":0.78,"y":0.96},{"c":8,"x":0.85,"y":0.98},{"c":8,"x":0.91,"y":1},{"c":8,"x":1,"y":1},
{"c":9,"x":0,"y":0},{"c":9,"x":0.005,"y":0.04},{"c":9,"x":0.01,"y":0.08},{"c":9,"x":0.02,"y":0.11},{"c":9,"x":0.04,"y":0.15},{"c":9,"x":0.06,"y":0.2},{"c":9,"x":0.08,"y":0.25},{"c":9,"x":0.1,"y":0.3},{"c":9,"x":0.13,"y":0.35},{"c":9,"x":0.16,"y":0.4},{"c":9,"x":0.19,"y":0.45},{"c":9,"x":0.22,"y":0.5},{"c":9,"x":0.26,"y":0.56},{"c":9,"x":0.3,"y":0.61},{"c":9,"x":0.35,"y":0.65},{"c":9,"x":0.4,"y":0.69},{"c":9,"x":0.45,"y":0.73},{"c":9,"x":0.51,"y":0.76},{"c":9,"x":0.57,"y":0.8},{"c":9,"x":0.63,"y":0.84},{"c":9,"x":0.69,"y":0.87},{"c":9,"x":0.75,"y":0.9},{"c":9,"x":0.82,"y":0.93},{"c":9,"x":0.88,"y":0.96},{"c":9,"x":0.94,"y":0.98},{"c":9,"x":1,"y":1},
{"c":10,"x":0,"y":0},{"c":10,"x":0.005,"y":0.05},{"c":10,"x":0.01,"y":0.1},{"c":10,"x":0.02,"y":0.15},{"c":10,"x":0.04,"y":0.2},{"c":10,"x":0.05,"y":0.24},{"c":10,"x":0.07,"y":0.3},{"c":10,"x":0.09,"y":0.35},{"c":10,"x":0.11,"y":0.4},{"c":10,"x":0.14,"y":0.45},{"c":10,"x":0.17,"y":0.5},{"c":10,"x":0.2,"y":0.55},{"c":10,"x":0.24,"y":0.6},{"c":10,"x":0.28,"y":0.65},{"c":10,"x":0.32,"y":0.69},{"c":10,"x":0.37,"y":0.72},{"c":10,"x":0.42,"y":0.76},{"c":10,"x":0.47,"y":0.79},{"c":10,"x":0.53,"y":0.82},{"c":10,"x":0.59,"y":0.85},{"c":10,"x":0.65,"y":0.88},{"c":10,"x":0.71,"y":0.91},{"c":10,"x":0.77,"y":0.93},{"c":10,"x":0.83,"y":0.96},{"c":10,"x":0.89,"y":0.98},{"c":10,"x":0.95,"y":1},{"c":10,"x":1,"y":1},
{"c":11,"x":0,"y":0},{"c":11,"x":0.005,"y":0.06},{"c":11,"x":0.01,"y":0.09},{"c":11,"x":0.02,"y":0.14},{"c":11,"x":0.03,"y":0.19},{"c":11,"x":0.04,"y":0.24},{"c":11,"x":0.06,"y":0.29},{"c":11,"x":0.08,"y":0.34},{"c":11,"x":0.1,"y":0.38},{"c":11,"x":0.12,"y":0.43},{"c":11,"x":0.14,"y":0.47},{"c":11,"x":0.17,"y":0.52},{"c":11,"x":0.2,"y":0.58},{"c":11,"x":0.24,"y":0.63},{"c":11,"x":0.28,"y":0.68},{"c":11,"x":0.33,"y":0.72},{"c":11,"x":0.38,"y":0.76},{"c":11,"x":0.44,"y":0.79},{"c":11,"x":0.5,"y":0.83},{"c":11,"x":0.57,"y":0.86},{"c":11,"x":0.63,"y":0.89},{"c":11,"x":0.7,"y":0.92},{"c":11,"x":0.76,"y":0.94},{"c":11,"x":0.82,"y":0.97},{"c":11,"x":0.88,"y":0.99},{"c":11,"x":0.94,"y":1},{"c":11,"x":1,"y":1},
{"c":12,"x":0,"y":0},{"c":12,"x":0.005,"y":0.05},{"c":12,"x":0.01,"y":0.08},{"c":12,"x":0.02,"y":0.12},{"c":12,"x":0.03,"y":0.17},{"c":12,"x":0.04,"y":0.21},{"c":12,"x":0.06,"y":0.25},{"c":12,"x":0.08,"y":0.31},{"c":12,"x":0.1,"y":0.36},{"c":12,"x":0.13,"y":0.41},{"c":12,"x":0.15,"y":0.45},{"c":12,"x":0.18,"y":0.5},{"c":12,"x":0.22,"y":0.55},{"c":12,"x":0.26,"y":0.6},{"c":12,"x":0.3,"y":0.64},{"c":12,"x":0.34,"y":0.68},{"c":12,"x":0.39,"y":0.72},{"c":12,"x":0.45,"y":0.76},{"c":12,"x":0.51,"y":0.79},{"c":12,"x":0.57,"y":0.82},{"c":12,"x":0.63,"y":0.85},{"c":12,"x":0.69,"y":0.88},{"c":12,"x":0.75,"y":0.91},{"c":12,"x":0.81,"y":0.94},{"c":12,"x":0.87,"y":0.96},{"c":12,"x":0.93,"y":0.98},{"c":12,"x":0.98,"y":1},{"c":12,"x":1,"y":1},
{"c":13,"x":0,"y":0},{"c":13,"x":0.005,"y":0.07},{"c":13,"x":0.01,"y":0.11},{"c":13,"x":0.02,"y":0.15},{"c":13,"x":0.03,"y":0.2},{"c":13,"x":0.05,"y":0.27},{"c":13,"x":0.06,"y":0.32},{"c":13,"x":0.08,"y":0.38},{"c":13,"x":0.1,"y":0.43},{"c":13,"x":0.12,"y":0.48},{"c":13,"x":0.15,"y":0.53},{"c":13,"x":0.18,"y":0.58},{"c":13,"x":0.21,"y":0.62},{"c":13,"x":0.24,"y":0.66},{"c":13,"x":0.28,"y":0.7},{"c":13,"x":0.33,"y":0.73},{"c":13,"x":0.38,"y":0.77},{"c":13,"x":0.43,"y":0.8},{"c":13,"x":0.49,"y":0.83},{"c":13,"x":0.55,"y":0.87},{"c":13,"x":0.61,"y":0.9},{"c":13,"x":0.67,"y":0.93},{"c":13,"x":0.74,"y":0.96},{"c":13,"x":0.81,"y":0.98},{"c":13,"x":0.88,"y":1},{"c":13,"x":1,"y":1}
]
},
"spacing": 19,
"vconcat": [
{"spacing": 3, "hconcat": [
{"title": {"text": "a)", "dx": -6, "offset": 5}, "width": 341, "height": 240,
 "layer": [
  {"data": {"name": "diag"}, "mark": {"type": "line", "color": "#999", "strokeDash": [4, 4], "strokeWidth": 1},
   "encoding": {
    "x": {"field": "x", "type": "quantitative", "scale": {"domain": [0, 1], "nice": false}, "axis": {"orient": "bottom", "title": "False positive rate", "values": [0, 0.2, 0.4, 0.6, 0.8, 1], "format": ".1f"}},
    "y": {"field": "y", "type": "quantitative", "scale": {"domain": [0, 1], "nice": false}, "axis": {"orient": "left", "title": "True positive rate", "values": [0, 0.2, 0.4, 0.6, 0.8, 1], "format": ".1f"}}}},
  {"data": {"name": "a"}, "mark": {"type": "line", "color": "#2c4fa6", "strokeWidth": 1.4},
   "encoding": {
    "x": {"field": "x", "type": "quantitative", "axis": {"orient": "top", "title": "Word memory", "titlePadding": 0, "labels": false, "values": [0, 0.2, 0.4, 0.6, 0.8, 1]}},
    "y": {"field": "y", "type": "quantitative", "axis": {"orient": "right", "title": null, "labels": false, "values": [0, 0.2, 0.4, 0.6, 0.8, 1]}},
    "detail": {"field": "c", "type": "nominal"}}}
 ]},
{"title": {"text": "b)", "dx": -11, "offset": 7}, "width": 332, "height": 234,
 "layer": [
  {"data": {"name": "diag"}, "mark": {"type": "line", "color": "#999", "strokeDash": [4, 4], "strokeWidth": 1},
   "encoding": {
    "x": {"field": "x", "type": "quantitative", "scale": {"domain": [0, 1], "nice": false}, "axis": {"orient": "bottom", "title": "False positive rate", "values": [0, 0.2, 0.4, 0.6, 0.8, 1], "format": ".1f"}},
    "y": {"field": "y", "type": "quantitative", "scale": {"domain": [0, 1], "nice": false}, "axis": {"orient": "left", "title": "True positive rate", "values": [0, 0.2, 0.4, 0.6, 0.8, 1], "format": ".1f"}}}},
  {"data": {"name": "b"}, "mark": {"type": "line", "color": "#2c4fa6", "strokeWidth": 1.4},
   "encoding": {
    "x": {"field": "x", "type": "quantitative", "axis": {"orient": "top", "title": "Attention", "titlePadding": 0, "labels": false, "values": [0, 0.2, 0.4, 0.6, 0.8, 1]}},
    "y": {"field": "y", "type": "quantitative", "axis": {"orient": "right", "title": null, "labels": false, "values": [0, 0.2, 0.4, 0.6, 0.8, 1]}},
    "detail": {"field": "c", "type": "nominal"}}}
 ]}
]},
{"spacing": 3, "hconcat": [
{"title": {"text": "c)", "dx": -6, "offset": 5}, "width": 340, "height": 238,
 "layer": [
  {"data": {"name": "diag"}, "mark": {"type": "line", "color": "#999", "strokeDash": [4, 4], "strokeWidth": 1},
   "encoding": {
    "x": {"field": "x", "type": "quantitative", "scale": {"domain": [0, 1], "nice": false}, "axis": {"orient": "bottom", "title": "False positive rate", "values": [0, 0.2, 0.4, 0.6, 0.8, 1], "format": ".1f"}},
    "y": {"field": "y", "type": "quantitative", "scale": {"domain": [0, 1], "nice": false}, "axis": {"orient": "left", "title": "True positive rate", "values": [0, 0.2, 0.4, 0.6, 0.8, 1], "format": ".1f"}}}},
  {"data": {"name": "c"}, "mark": {"type": "line", "color": "#2c4fa6", "strokeWidth": 1.4},
   "encoding": {
    "x": {"field": "x", "type": "quantitative", "axis": {"orient": "top", "title": "Executive function", "titlePadding": 0, "labels": false, "values": [0, 0.2, 0.4, 0.6, 0.8, 1]}},
    "y": {"field": "y", "type": "quantitative", "axis": {"orient": "right", "title": null, "labels": false, "values": [0, 0.2, 0.4, 0.6, 0.8, 1]}},
    "detail": {"field": "c", "type": "nominal"}}}
 ]},
{"title": {"text": "d)", "dx": -11, "offset": 5}, "width": 332, "height": 233,
 "layer": [
  {"data": {"name": "diag"}, "mark": {"type": "line", "color": "#999", "strokeDash": [4, 4], "strokeWidth": 1},
   "encoding": {
    "x": {"field": "x", "type": "quantitative", "scale": {"domain": [0, 1], "nice": false}, "axis": {"orient": "bottom", "title": "False positive rate", "values": [0, 0.2, 0.4, 0.6, 0.8, 1], "format": ".1f"}},
    "y": {"field": "y", "type": "quantitative", "scale": {"domain": [0, 1], "nice": false}, "axis": {"orient": "left", "title": "True positive rate", "values": [0, 0.2, 0.4, 0.6, 0.8, 1], "format": ".1f"}}}},
  {"data": {"name": "d"}, "mark": {"type": "line", "color": "#2c4fa6", "strokeWidth": 1.1, "interpolate": "step-after"},
   "encoding": {
    "x": {"field": "x", "type": "quantitative", "axis": {"orient": "top", "title": "Processing speed", "titlePadding": 0, "labels": false, "values": [0, 0.2, 0.4, 0.6, 0.8, 1]}},
    "y": {"field": "y", "type": "quantitative", "axis": {"orient": "right", "title": null, "labels": false, "values": [0, 0.2, 0.4, 0.6, 0.8, 1]}},
    "detail": {"field": "c", "type": "nominal"}}}
 ]}
]}
]
}
